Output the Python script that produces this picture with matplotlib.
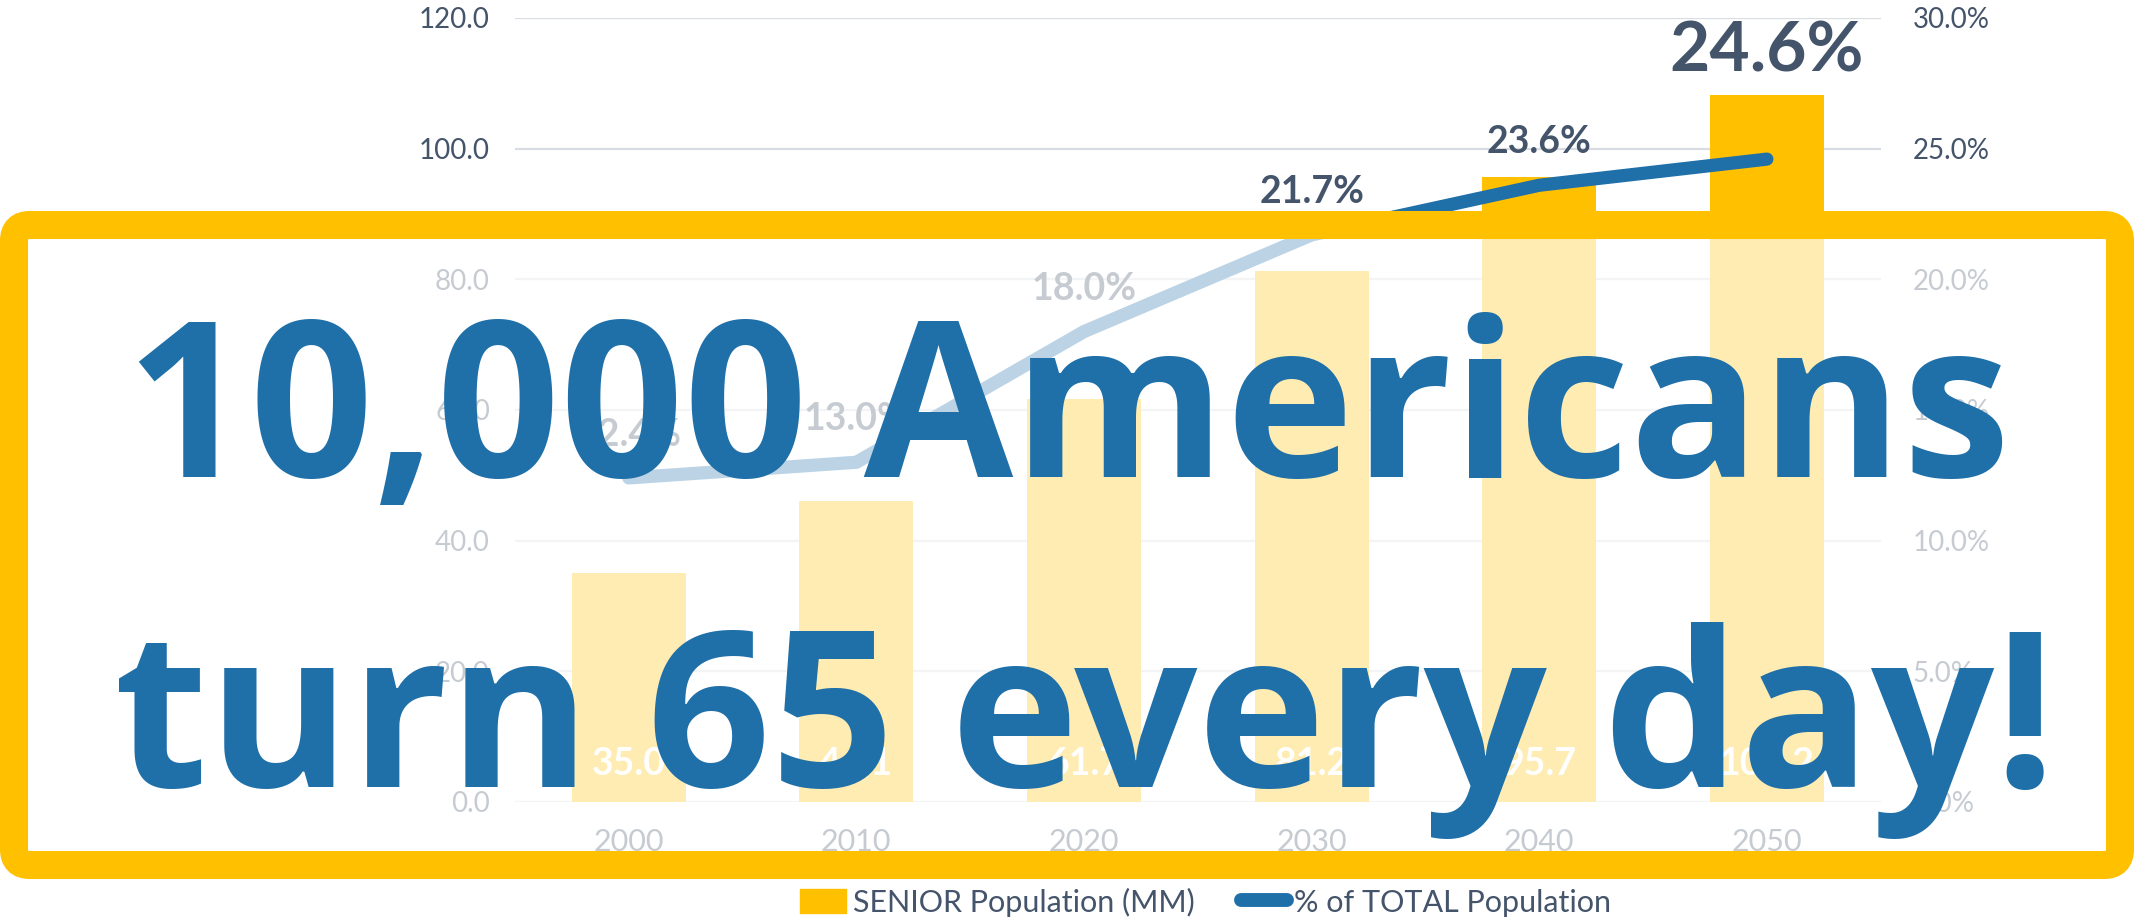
import numpy as np
import matplotlib.pyplot as plt
from matplotlib.patches import FancyBboxPatch, Patch
from matplotlib.lines import Line2D
from matplotlib.transforms import IdentityTransform

years = ["2000", "2010", "2020", "2030", "2040", "2050"]
senior_pop = [35.0, 46.1, 61.7, 81.2, 95.7, 108.2]   # MM
pct_total = [12.4, 13.0, 18.0, 21.7, 23.6, 24.6]     # %

YELLOW = "#FFC000"
BLUE = "#1F6FA8"
DARK = "#44546A"
GRID = "#D9DDE3"

plt.rcParams['font.family'] = ['Lato', 'DejaVu Sans']

fig = plt.figure(figsize=(21.34, 9.23), dpi=100)
ax = fig.add_axes([0.2413, 0.1311, 0.640, 0.8494])

x = np.arange(len(years))
ax.bar(x, senior_pop, width=0.5, color=YELLOW, zorder=2)
ax.set_xlim(-0.5, len(years) - 0.5)
ax.set_ylim(0, 120)
ax.set_yticks(np.arange(0, 121, 20))
ax.set_yticklabels([f"{v:.1f}" for v in np.arange(0, 121, 20)])
ax.set_xticks(x)
ax.set_xticklabels(years)
ax.set_axisbelow(True)
ax.yaxis.grid(True, color=GRID, linewidth=1.6)
ax.tick_params(axis='y', length=0, pad=18, labelsize=20, labelcolor=DARK)
ax.tick_params(axis='x', length=0, pad=19, labelsize=22, labelcolor=DARK)
for s in ax.spines.values():
    s.set_visible(False)

# valores dentro de las barras
for xi, v in zip(x, senior_pop):
    ax.annotate(f"{v:.1f}", (xi, 0), xytext=(0, 27), textcoords='offset points',
                ha='center', va='center', color='white', fontweight='bold', fontsize=27)

ax2 = ax.twinx()
ax2.plot(x, pct_total, color=BLUE, linewidth=9.5, solid_capstyle='round', zorder=3)
ax2.set_ylim(0, 30)
ax2.set_yticks(np.arange(0, 31, 5))
ax2.set_yticklabels([f"{v:.1f}%" for v in np.arange(0, 31, 5)])
ax2.tick_params(axis='y', length=0, pad=23, labelsize=20, labelcolor=DARK)
for s in ax2.spines.values():
    s.set_visible(False)

for i, (xi, v) in enumerate(zip(x, pct_total)):
    last = i == len(pct_total) - 1
    ax2.annotate(f"{v:.1f}%", (xi, v), xytext=(0, 77 if last else 31),
                 textcoords='offset points', ha='center', va='center',
                 color=DARK, fontweight='bold', fontsize=50 if last else 27)

handles = [Patch(color=YELLOW, label="SENIOR Population (MM)"),
           Line2D([], [], color=BLUE, linewidth=10, solid_capstyle='round',
                  label="% of TOTAL Population")]
fig.legend(handles=handles, loc='center', bbox_to_anchor=(0.565, 0.0228), ncol=2,
           frameon=False, fontsize=22, labelcolor=DARK, handlelength=1.5,
           handleheight=0.85, handletextpad=0.25, columnspacing=1.5)

# caja semitransparente encima del grafico
caja = FancyBboxPatch((14, 58), 2106, 640, boxstyle="round,pad=0,rounding_size=16",
                      transform=IdentityTransform(), facecolor=(1, 1, 1, 0.7),
                      edgecolor=YELLOW, linewidth=20.2, zorder=5)
fig.add_artist(caja)

fig.text(1068 / 2134, (923 - 477) / 923, "10,000 Americans", ha='center', va='baseline',
         fontsize=156, family=['Open Sans', 'DejaVu Sans'], fontweight='bold',
         color=BLUE, zorder=6)
fig.text(1085 / 2134, (923 - 787) / 923, "turn 65 every day!", ha='center', va='baseline',
         fontsize=156, family=['Open Sans', 'DejaVu Sans'], fontweight='bold',
         color=BLUE, zorder=6)

fig.savefig("out.png", dpi=100)
